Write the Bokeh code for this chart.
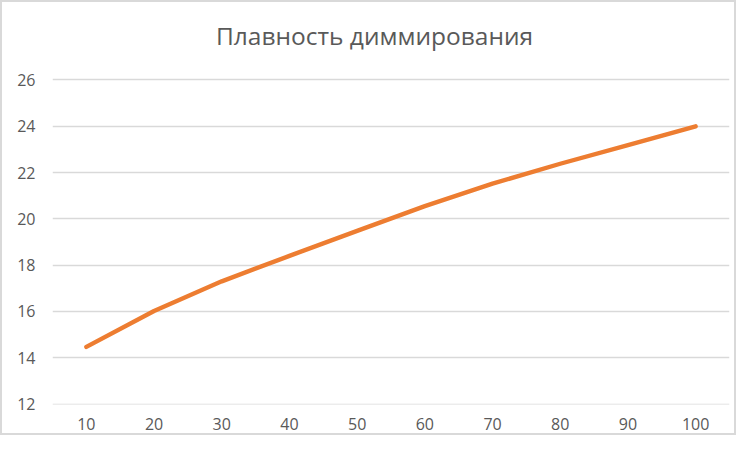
from bokeh.plotting import figure
from bokeh.models import FactorRange, Range1d, FixedTicker, Label
from bokeh.embed import file_html
from bokeh.resources import INLINE

# данные: плавность диммирования
levels = ["10", "20", "30", "40", "50", "60", "70", "80", "90", "100"]
values = [14.47, 16.02, 17.3, 18.4, 19.48, 20.55, 21.52, 22.38, 23.18, 24.0]
y_ticks = [12, 14, 16, 18, 20, 22, 24, 26]
title_text = "Плавность диммирования"

# frame reaches up to the border so the title can sit inside it
p = figure(x_range=FactorRange(*levels, range_padding=0),
           y_range=Range1d(11.98, 29.26),
           width=736, height=435,
           output_backend="svg", toolbar_location=None,
           min_border_left=50, min_border_right=9,
           min_border_top=2, min_border_bottom=33)
p.styles = {"border": "2px solid #d9d9d9", "box-sizing": "border-box"}

p.line(levels, values, line_color="#ED7D31", line_width=4.4,
       line_cap="round", line_join="round")

# title (screen units start at the frame's bottom-left)
p.add_layout(Label(x=322, y=369, x_units="screen", y_units="screen",
                   text=title_text, text_align="center", text_baseline="middle",
                   text_font="Open Sans", text_font_size="24.5px",
                   text_color="#595959"))

p.outline_line_color = None
p.xgrid.grid_line_color = None
p.ygrid.grid_line_color = "#d9d9d9"
p.ygrid.grid_line_width = 1.3
p.yaxis.ticker = FixedTicker(ticks=y_ticks)

for ax in (p.xaxis, p.yaxis):
    ax.axis_line_color = None
    ax.major_tick_line_color = None
    ax.minor_tick_line_color = None
    ax.major_tick_out = 0
    ax.major_tick_in = 0
    ax.major_label_text_font = "Open Sans"
    ax.major_label_text_font_size = "16px"
    ax.major_label_text_color = "#595959"
p.yaxis.major_label_standoff = 17
p.xaxis.major_label_standoff = 13

open("out.html", "w").write(file_html(p, INLINE))
